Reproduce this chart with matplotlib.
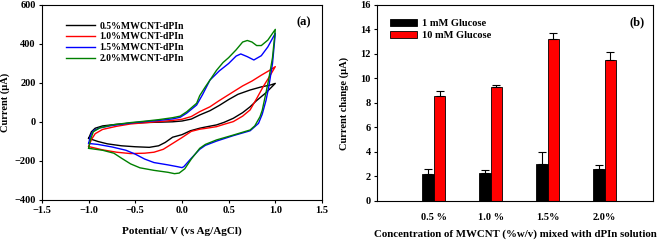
import numpy as np
import matplotlib
matplotlib.use('Agg')
import matplotlib.pyplot as plt

plt.rcParams['font.family'] = ['Liberation Serif', 'DejaVu Serif']
plt.rcParams['font.weight'] = 'bold'

# (a) cyclic voltammograms, forward scan then reverse scan
e_05 = [-1.0, -0.97, -0.93, -0.85, -0.7, -0.55, -0.4, -0.25, -0.1, 0.0, 0.1, 0.19, 0.3, 0.4, 0.5, 0.6, 0.73, 0.85, 0.95, 1.0,
        0.9, 0.8, 0.73, 0.65, 0.55, 0.45, 0.37, 0.25, 0.19, 0.09, 0.0, -0.1, -0.18, -0.25, -0.35, -0.5, -0.65, -0.8, -0.9, -1.0]
i_05 = [-84, -50, -32, -20, -12, -6, -3, -1, 1, 5, 15, 36, 58, 85, 115, 142, 164, 180, 190, 198,
        150, 110, 78, 48, 19, -2, -15, -26, -32, -45, -65, -78, -105, -122, -130, -127, -122, -112, -100, -84]

e_10 = [-1.0, -0.97, -0.93, -0.85, -0.7, -0.55, -0.4, -0.25, -0.1, 0.0, 0.1, 0.19, 0.3, 0.4, 0.55, 0.65, 0.75, 0.85, 0.95, 1.0,
        0.94, 0.87, 0.8, 0.73, 0.65, 0.55, 0.45, 0.37, 0.25, 0.19, 0.1, 0.0, -0.1, -0.2, -0.3, -0.4, -0.55, -0.7, -0.85, -1.0]
i_10 = [-126, -90, -60, -38, -22, -10, -4, 2, 8, 14, 28, 53, 78, 110, 155, 185, 210, 240, 268, 284,
        235, 181, 120, 62, 30, 2, -12, -24, -33, -37, -48, -80, -110, -140, -155, -160, -162, -155, -143, -126]

e_15 = [-1.0, -0.98, -0.95, -0.88, -0.75, -0.55, -0.4, -0.25, -0.1, -0.02, 0.05, 0.157, 0.22, 0.3, 0.4, 0.5, 0.58, 0.63, 0.7, 0.77, 0.85, 0.92, 1.0,
        0.97, 0.93, 0.9, 0.86, 0.82, 0.73, 0.55, 0.37, 0.25, 0.19, 0.1, 0.02, 0.0, -0.05, -0.15, -0.3, -0.4, -0.5, -0.6, -0.75, -0.9, -1.0]
i_15 = [-110, -70, -45, -30, -18, -5, 2, 8, 16, 24, 45, 87, 140, 215, 262, 300, 338, 349, 335, 318, 340, 385, 455,
        300, 180, 110, 40, -7, -45, -70, -98, -120, -140, -186, -229, -234, -229, -220, -208, -190, -165, -145, -128, -115, -110]

e_20 = [-1.0, -0.98, -0.95, -0.88, -0.75, -0.55, -0.4, -0.25, -0.1, -0.02, 0.05, 0.157, 0.19, 0.25, 0.3, 0.37, 0.44, 0.5, 0.58, 0.65, 0.7, 0.75, 0.8, 0.85, 0.92, 1.0,
        0.97, 0.93, 0.9, 0.86, 0.836, 0.78, 0.73, 0.55, 0.37, 0.25, 0.19, 0.1, 0.03, -0.03, -0.08, -0.15, -0.3, -0.45, -0.55, -0.65, -0.73, -0.85, -1.0]
i_20 = [-135, -90, -50, -30, -15, -3, 4, 12, 22, 30, 52, 96, 135, 180, 215, 265, 305, 330, 370, 410, 418, 410, 392, 392, 420, 475,
        330, 220, 150, 60, 27, -20, -41, -67, -92, -115, -135, -190, -240, -262, -265, -258, -248, -235, -215, -185, -160, -145, -135]

cv_labels = ['0.5%MWCNT-dPIn', '1.0%MWCNT-dPIn', '1.5%MWCNT-dPIn', '2.0%MWCNT-dPIn']
cv_colors = ['black', 'red', 'blue', 'green']

# (b) current change
conc = ['0.5 %', '1.0 %', '1.5%', '2.0%']
glu_1 = [2.2, 2.3, 3.0, 2.6]
glu_1_err = [0.4, 0.2, 1.0, 0.3]
glu_10 = [8.6, 9.3, 13.2, 11.55]
glu_10_err = [0.35, 0.15, 0.5, 0.65]

fig = plt.figure(figsize=(6.61, 2.40), dpi=100)

ax1 = fig.add_axes([0.0635, 0.1667, 0.4236, 0.8125])
for e, i, lab, c in zip([e_05, e_10, e_15, e_20], [i_05, i_10, i_15, i_20], cv_labels, cv_colors):
    ax1.plot(e, i, color=c, lw=1.0, label=lab)
ax1.set_xlim(-1.5, 1.5)
ax1.set_ylim(-400, 600)
ax1.set_xticks(np.arange(-1.5, 1.51, 0.5))
ax1.set_yticks(np.arange(-400, 601, 200))
ax1.tick_params(labelsize=7.5, length=2.5, width=0.8, direction='out', pad=2)
ax1.set_xlabel('Potential/ V (vs Ag/AgCl)', fontsize=8, fontweight='bold', labelpad=8)
ax1.set_ylabel('Current (μA)', fontsize=7.5, fontweight='bold')
ax1.yaxis.set_label_coords(-0.115, 0.5)
ax1.legend(loc='upper left', bbox_to_anchor=(0.06, 0.95), frameon=False, fontsize=7,
           handlelength=3.0, handletextpad=0.5, labelspacing=0.2, borderpad=0.2)
ax1.text(0.96, 0.94, '(a)', transform=ax1.transAxes, ha='right', va='top', fontsize=9, fontweight='bold')

ax2 = fig.add_axes([0.5703, 0.1625, 0.4175, 0.8167])
pos = np.arange(1, len(conc) + 1)
w = 0.2
ax2.bar(pos - w / 2, glu_1, w, color='black', edgecolor='black', lw=0.6, label='1 mM Glucose')
ax2.bar(pos + w / 2, glu_10, w, color='red', edgecolor='black', lw=0.6, label='10 mM Glucose')
ax2.errorbar(pos - w / 2, glu_1, yerr=[np.zeros(4), glu_1_err], fmt='none', ecolor='black', elinewidth=0.8, capsize=3, capthick=0.8)
ax2.errorbar(pos + w / 2, glu_10, yerr=[np.zeros(4), glu_10_err], fmt='none', ecolor='black', elinewidth=0.8, capsize=3, capthick=0.8)
ax2.set_xlim(0.0, 4.85)
ax2.set_ylim(0, 16)
ax2.set_yticks(np.arange(0, 17, 2))
ax2.set_xticks(pos)
ax2.set_xticklabels(conc)
ax2.tick_params(axis='y', labelsize=7.5, length=2.5, width=0.8, direction='out', pad=2)
ax2.tick_params(axis='x', labelsize=7.5, length=0, pad=9)
ax2.set_xlabel('Concentration of MWCNT (%w/v) mixed with dPIn solution', fontsize=7.8, fontweight='bold', labelpad=5)
ax2.set_ylabel('Current change (μA)', fontsize=7.5, fontweight='bold')
ax2.yaxis.set_label_coords(-0.10, 0.5)
ax2.legend(loc='upper left', bbox_to_anchor=(0.02, 0.965), frameon=False, fontsize=7.5,
           handlelength=2.6, handleheight=0.7, handletextpad=0.5, labelspacing=0.2, borderpad=0.2)
ax2.text(0.97, 0.94, '(b)', transform=ax2.transAxes, ha='right', va='top', fontsize=9, fontweight='bold')

fig.savefig('out.png', dpi=100)
